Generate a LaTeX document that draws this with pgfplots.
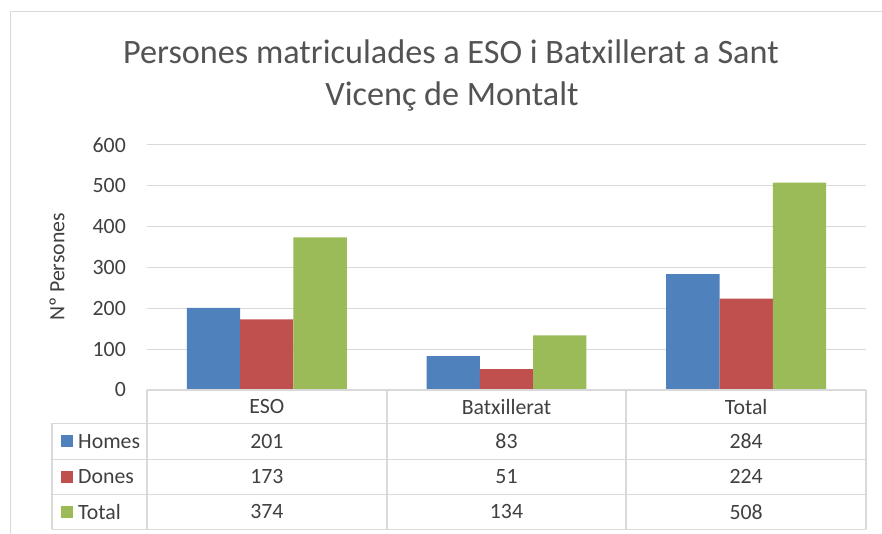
\documentclass[border=0pt]{standalone}
\usepackage{fontspec}
\setmainfont{Carlito}
\usepackage{pgfplots}
\pgfplotsset{compat=1.18}
\usepackage{pgfplotstable}
\definecolor{cblue}{HTML}{4F81BD}
\definecolor{cred}{HTML}{C0504D}
\definecolor{cgreen}{HTML}{9BBB59}
\definecolor{gridc}{HTML}{D9D9D9}
\definecolor{txt}{HTML}{404040}
\pgfplotstableread{
cat homes dones total
ESO 201 173 374
Batxillerat 83 51 134
Total 284 224 508
}\data
\newcommand{\tf}{\fontsize{21.8}{26}\selectfont}
\begin{document}
\begin{tikzpicture}
\path[use as bounding box] (0pt,0pt) rectangle (882pt,534pt);
\draw[gridc, line width=1pt] (10pt,0pt) -- (10pt,522pt) -- (882pt,522pt);
\node[anchor=base, font=\fontsize{34.2}{41}\selectfont, text=txt!90, inner sep=0pt] at (451pt,470pt) {Persones matriculades a ESO i Batxillerat a Sant};
\node[anchor=base, font=\fontsize{34.2}{41}\selectfont, text=txt!90, inner sep=0pt] at (452pt,428pt) {Vicenç de Montalt};
\node[rotate=90, font=\tf, text=txt, inner sep=0pt] at (57pt,267pt) {Nº Persones};
\begin{axis}[
  at={(147pt,144pt)}, anchor=south west,
  scale only axis, width=719pt, height=245pt,
  xmin=-0.5, xmax=2.5, ymin=0, ymax=600,
  ytick={0,100,...,600}, xtick=\empty,
  axis line style={draw=none},
  ymajorgrids, grid style={gridc, line width=1pt},
  major tick length=0pt,
  yticklabel style={font=\tf, text=txt, inner sep=0pt, xshift=-21pt},
  /pgf/number format/assume math mode=true,
  clip=false,
]
\addplot[ybar, bar width=53.3pt, bar shift=-53.3pt, fill=cblue, draw=none] table[x expr=\coordindex, y=homes]{\data};
\addplot[ybar, bar width=53.3pt, bar shift=0pt, fill=cred, draw=none] table[x expr=\coordindex, y=dones]{\data};
\addplot[ybar, bar width=53.3pt, bar shift=53.3pt, fill=cgreen, draw=none] table[x expr=\coordindex, y=total]{\data};
% data table text
\addplot[draw=none, mark=none, point meta=explicit symbolic, nodes near coords,
  every node near coord/.append style={anchor=center, font=\tf, text=txt}]
  table[x expr=\coordindex, y expr=-40.9, meta=cat]{\data};
\addplot[draw=none, mark=none, point meta=explicit, nodes near coords,
  every node near coord/.append style={anchor=center, font=\tf, text=txt}]
  table[x expr=\coordindex, y expr=-125.6, meta=homes]{\data};
\addplot[draw=none, mark=none, point meta=explicit, nodes near coords,
  every node near coord/.append style={anchor=center, font=\tf, text=txt}]
  table[x expr=\coordindex, y expr=-212.6, meta=dones]{\data};
\addplot[draw=none, mark=none, point meta=explicit, nodes near coords,
  every node near coord/.append style={anchor=center, font=\tf, text=txt}]
  table[x expr=\coordindex, y expr=-298.3, meta=total]{\data};
\end{axis}
% table grid
\begin{scope}[gridc, line width=1.3pt]
\draw (147pt,144pt) -- (866pt,144pt);
\foreach \yy in {110.7,74.7,39.7,4.7} \draw (52pt,\yy pt) -- (866pt,\yy pt);
\draw (52pt,4.7pt) -- (52pt,110.7pt);
\foreach \xx in {147,387,626,866} \draw (\xx pt,4.7pt) -- (\xx pt,144pt);
\end{scope}
% legend keys
\fill[cblue] (60.7pt,86.7pt) rectangle (72.7pt,98.7pt);
\fill[cred] (60.7pt,51.2pt) rectangle (72.7pt,63.2pt);
\fill[cgreen] (60.7pt,16.2pt) rectangle (72.7pt,28.2pt);
\node[anchor=west, font=\tf, text=txt, inner sep=0pt] at (78pt,92.7pt) {Homes};
\node[anchor=west, font=\tf, text=txt, inner sep=0pt] at (78pt,57.2pt) {Dones};
\node[anchor=west, font=\tf, text=txt, inner sep=0pt] at (78pt,22.2pt) {Total};
\end{tikzpicture}
\end{document}
